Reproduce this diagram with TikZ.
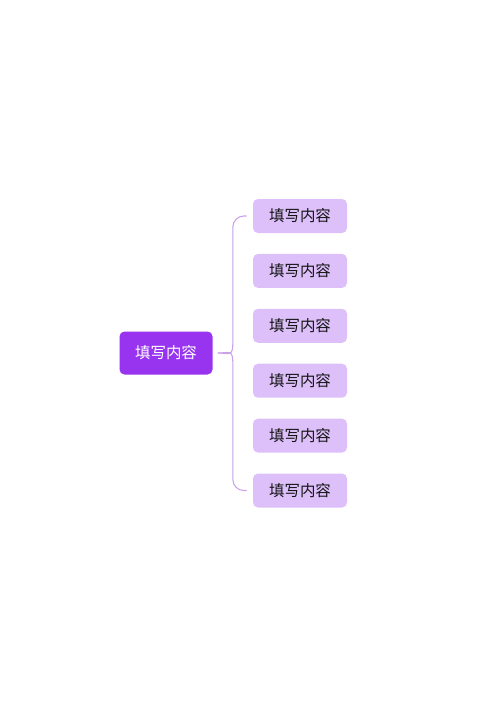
\documentclass[tikz,border=0pt]{standalone}
\usepackage{fontspec}
\usepackage{xcolor}
\usepackage{tikz}
\usetikzlibrary{positioning, calc}
\newfontfamily\cjk{Noto Sans CJK SC}
\definecolor{rootcolor}{RGB}{152, 52, 240}
\definecolor{leafcolor}{RGB}{221, 192, 250}
\definecolor{linkcolor}{RGB}{200, 160, 232}
\definecolor{textcolor}{RGB}{20, 20, 20}

\begin{document}
\begin{tikzpicture}[
    node distance=0.404cm,
    rootbox/.style={rectangle, rounded corners=0.1cm, fill=rootcolor, minimum width=1.86cm, minimum height=0.86cm, align=center, font=\cjk\fontsize{8.8}{10}\selectfont, text=white},
    leafbox/.style={rectangle, rounded corners=0.1cm, fill=leafcolor, minimum width=1.88cm, minimum height=0.68cm, align=center, font=\cjk\fontsize{8.8}{10}\selectfont, text=textcolor},
    link/.style={draw=linkcolor, line width=0.6pt},
]
\useasboundingbox (0,0) rectangle (10,-14.14);

% ============ ROOT ============
\node[rootbox] (root) at (3.32,-7.06) {填写内容};

% ============ LEAVES ============
\node[leafbox] (leafa) at (6.0,-4.32) {填写内容};
\node[leafbox, below=of leafa] (leafb) {填写内容};
\node[leafbox, below=of leafb] (leafc) {填写内容};
\node[leafbox, below=of leafc] (leafd) {填写内容};
\node[leafbox, below=of leafd] (leafe) {填写内容};
\node[leafbox, below=of leafe] (leaff) {填写内容};

% ============ BRACE ============
\coordinate (hub) at ($(root.east)+(0.1,0)$);
\coordinate (spine) at ($(hub)+(0.3,0)$);
\coordinate (topend) at ($(leafa.west)+(-0.12,0)$);
\coordinate (botend) at ($(leaff.west)+(-0.12,0)$);

\draw[link] (hub) .. controls ($(hub)+(0.22,0)$) and ($(spine)+(0,-0.08)$) .. ($(spine)+(0,0.2)$);
\draw[link] (hub) .. controls ($(hub)+(0.22,0)$) and ($(spine)+(0,0.08)$) .. ($(spine)+(0,-0.2)$);
\draw[link, rounded corners=0.22cm] ($(spine)+(0,0.2)$) |- (topend);
\draw[link, rounded corners=0.22cm] ($(spine)+(0,-0.2)$) |- (botend);

\end{tikzpicture}
\end{document}
